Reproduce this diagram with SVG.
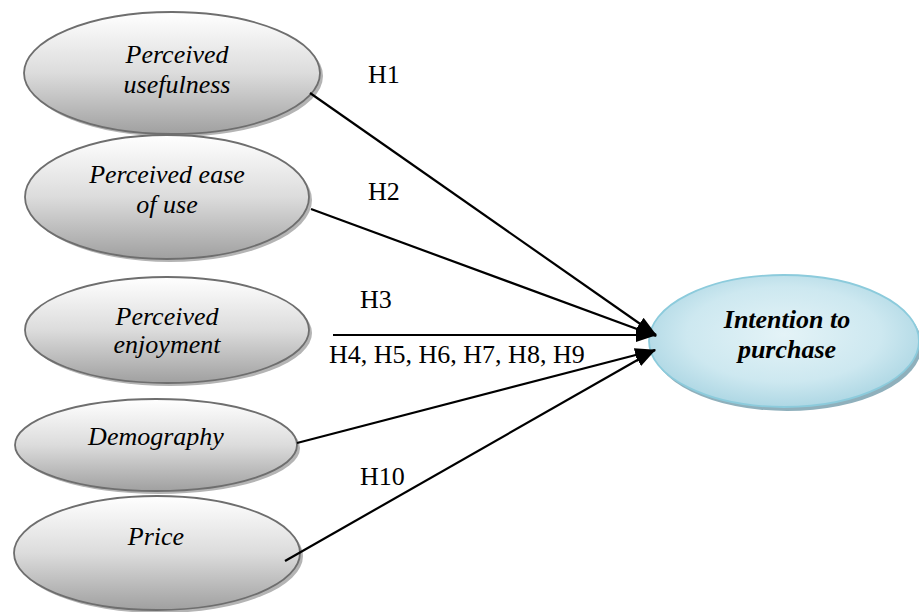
<svg xmlns="http://www.w3.org/2000/svg" width="919" height="612" viewBox="0 0 919 612">
<defs>
<linearGradient id="gray" x1="0" y1="0" x2="0" y2="1">
<stop offset="0" stop-color="#ffffff"/>
<stop offset="0.5" stop-color="#dcdcdc"/>
<stop offset="1" stop-color="#a0a0a0"/>
</linearGradient>
<radialGradient id="blue" cx="0.5" cy="0.45" r="0.6">
<stop offset="0" stop-color="#e4f3f7"/>
<stop offset="0.6" stop-color="#cde8f0"/>
<stop offset="1" stop-color="#a6d3e1"/>
</radialGradient>
<marker id="arr" viewBox="0 0 21 14" refX="20" refY="7" markerWidth="21" markerHeight="14" markerUnits="userSpaceOnUse" orient="auto">
<path d="M0,0 L21,7 L0,14 z" fill="#000"/>
</marker>
</defs>
<style>
.sh{fill:#b4b4b4;}
.el{fill:url(#gray);stroke:#6e6e6e;stroke-width:1.8;}
.tx{font-family:"Liberation Serif","Times New Roman",serif;font-style:italic;font-size:26px;fill:#000;text-anchor:middle;}
.lb{font-family:"Liberation Serif","Times New Roman",serif;font-size:26px;fill:#000;}
.cn{stroke:#000;stroke-width:2.2;fill:none;marker-end:url(#arr);}
</style>
<rect width="919" height="612" fill="#fff"/>
<g id="n1">
<ellipse class="sh" cx="175" cy="76" rx="148" ry="61"/>
<ellipse class="el" cx="172" cy="73" rx="148" ry="61"/>
<text class="tx" x="177" y="63">Perceived</text>
<text class="tx" x="177" y="93">usefulness</text>
</g>
<g id="n2">
<ellipse class="sh" cx="170" cy="200" rx="142" ry="62"/>
<ellipse class="el" cx="167" cy="197" rx="142" ry="62"/>
<text class="tx" x="167" y="183">Perceived ease</text>
<text class="tx" x="167" y="213">of use</text>
</g>
<g id="n3">
<ellipse class="sh" cx="170" cy="333" rx="142" ry="53"/>
<ellipse class="el" cx="167" cy="330" rx="142" ry="53"/>
<text class="tx" x="167" y="325">Perceived</text>
<text class="tx" x="167" y="353">enjoyment</text>
</g>
<g id="n4">
<ellipse class="sh" cx="159" cy="448" rx="141" ry="46"/>
<ellipse class="el" cx="156" cy="445" rx="141" ry="46"/>
<text class="tx" x="156" y="445">Demography</text>
</g>
<g id="n5">
<ellipse class="sh" cx="160" cy="556" rx="143" ry="57"/>
<ellipse class="el" cx="157" cy="553" rx="143" ry="57"/>
<text class="tx" x="156" y="545">Price</text>
</g>
<g id="n6">
<ellipse cx="787" cy="345" rx="135" ry="66" fill="#8fb0bc"/>
<ellipse cx="784" cy="341" rx="135" ry="66" fill="url(#blue)" stroke="#8ccbdc" stroke-width="1.8"/>
<text class="tx" x="787" y="328" font-weight="bold">Intention to</text>
<text class="tx" x="787" y="358" font-weight="bold">purchase</text>
</g>
<g id="connectors">
<line class="cn" x1="310" y1="93" x2="656" y2="335"/>
<line class="cn" x1="311" y1="209" x2="656" y2="336"/>
<line class="cn" x1="333" y1="335" x2="656" y2="335"/>
<line class="cn" x1="297" y1="443" x2="655" y2="350"/>
<line class="cn" x1="285" y1="561" x2="655" y2="350"/>
</g>
<g id="labels">
<text class="lb" x="368" y="83">H1</text>
<text class="lb" x="368" y="200">H2</text>
<text class="lb" x="360" y="308">H3</text>
<text class="lb" x="329" y="363">H4, H5, H6, H7, H8, H9</text>
<text class="lb" x="360" y="485">H10</text>
</g>
</svg>
